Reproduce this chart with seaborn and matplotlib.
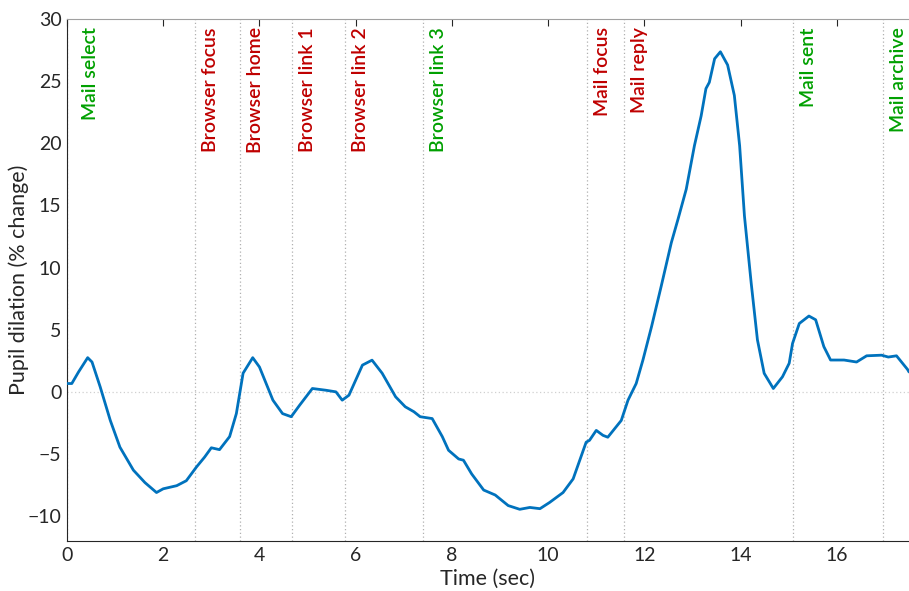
import matplotlib
matplotlib.use("Agg")
import matplotlib.pyplot as plt
import seaborn as sns
import pandas as pd

time_s = [0, 0.1, 0.24, 0.43, 0.52, 0.69, 0.9, 1.1, 1.38, 1.62, 1.86, 2.0, 2.28, 2.48, 2.69,
          2.86, 3.0, 3.17, 3.38, 3.52, 3.66, 3.86, 4.0, 4.28, 4.48, 4.66, 4.83, 5.1, 5.38,
          5.59, 5.72, 5.86, 6.14, 6.34, 6.55, 6.83, 7.03, 7.21, 7.34, 7.59, 7.8, 7.93, 8.14,
          8.24, 8.41, 8.66, 8.9, 9.17, 9.41, 9.62, 9.83, 10.03, 10.31, 10.52, 10.79, 10.86,
          11.0, 11.14, 11.24, 11.52, 11.66, 11.83, 11.97, 12.15, 12.35, 12.56, 12.7, 12.87,
          13.04, 13.18, 13.28, 13.35, 13.46, 13.58, 13.73, 13.87, 13.98, 14.08, 14.22, 14.35,
          14.49, 14.68, 14.87, 15.01, 15.08, 15.22, 15.42, 15.56, 15.73, 15.87, 16.15, 16.41,
          16.62, 16.93, 17.07, 17.24, 17.47, 17.5]
dilation = [0.67, 0.67, 1.6, 2.75, 2.4, 0.4, -2.3, -4.45, -6.3, -7.3, -8.1, -7.8, -7.55, -7.15,
            -6.05, -5.25, -4.5, -4.65, -3.6, -1.75, 1.5, 2.75, 2.0, -0.67, -1.75, -2.0, -1.1,
            0.27, 0.13, 0.0, -0.67, -0.27, 2.15, 2.55, 1.5, -0.4, -1.2, -1.6, -2.0, -2.15,
            -3.6, -4.7, -5.4, -5.5, -6.6, -7.9, -8.3, -9.15, -9.45, -9.3, -9.4, -8.9, -8.1,
            -7.0, -4.05, -3.9, -3.1, -3.5, -3.65, -2.3, -0.67, 0.67, 2.56, 5.26, 8.5, 12.0,
            13.9, 16.3, 19.8, 22.2, 24.4, 24.9, 26.8, 27.36, 26.3, 23.85, 19.8, 14.15, 8.76,
            4.18, 1.49, 0.27, 1.21, 2.3, 3.9, 5.5, 6.1, 5.8, 3.64, 2.56, 2.56, 2.4, 2.9, 2.95,
            2.8, 2.9, 1.8, 1.6]

event_names = ["Mail select", "Browser focus", "Browser home", "Browser link 1",
               "Browser link 2", "Browser link 3", "Mail focus", "Mail reply",
               "Mail sent", "Mail archive"]
event_times = [0.0, 2.66, 3.6, 4.68, 5.78, 7.4, 10.81, 11.58, 15.09, 16.96]
event_kind = ["mail", "browser", "browser", "browser", "browser", "mail",
              "browser", "browser", "mail", "mail"]

x_ticks = [0, 2, 4, 6, 8, 10, 12, 14, 16]
y_ticks = [-10, -5, 0, 5, 10, 15, 20, 25, 30]

sns.set_theme(style="white")
plt.rcParams['font.family'] = ['Lato', 'DejaVu Sans']

fig = plt.figure(figsize=(9.09, 5.91), dpi=100)
ax = fig.add_axes([0.0737, 0.0846, 0.9263, 0.8833])

ax.axhline(0, color="#d0d0d0", lw=0.9, ls=(0, (1, 2)), zorder=1)
colors = {"mail": "#00A000", "browser": "#BF0000"}
for name, t, k in zip(event_names, event_times, event_kind):
    ax.axvline(t, color="#b0b0b0", lw=0.9, ls=(0, (1, 2)), zorder=1)
    dx = 11 if t == 0 else 5
    ax.annotate(name, xy=(t, 30), xycoords="data", xytext=(dx, -6),
                textcoords="offset points", rotation=90, ha="left", va="top",
                color=colors[k], fontsize=14, fontweight="semibold")

df = pd.DataFrame({"t": time_s, "v": dilation})
sns.lineplot(data=df, x="t", y="v", ax=ax, color="#0072BD", lw=2.0, zorder=3)

ax.set_xlim(0, 17.5)
ax.set_ylim(-12, 30)
ax.set_xticks(x_ticks)
ax.set_yticks(y_ticks)
ax.set_xlabel("Time (sec)", fontsize=15.5, labelpad=4, color="#262626")
ax.set_ylabel("Pupil dilation (% change)", fontsize=15.5, color="#262626")
ax.yaxis.set_label_coords(-0.045, 0.5)
ax.tick_params(direction="in", length=5, width=0.8, colors="#262626", labelsize=14,
               top=True, right=False, pad=4)
for s in ["left", "bottom", "top"]:
    ax.spines[s].set_color("#262626")
    ax.spines[s].set_linewidth(0.8)
ax.spines["top"].set_color("#a0a0a0")
ax.spines["right"].set_visible(False)

fig.savefig("out.png", dpi=100)
